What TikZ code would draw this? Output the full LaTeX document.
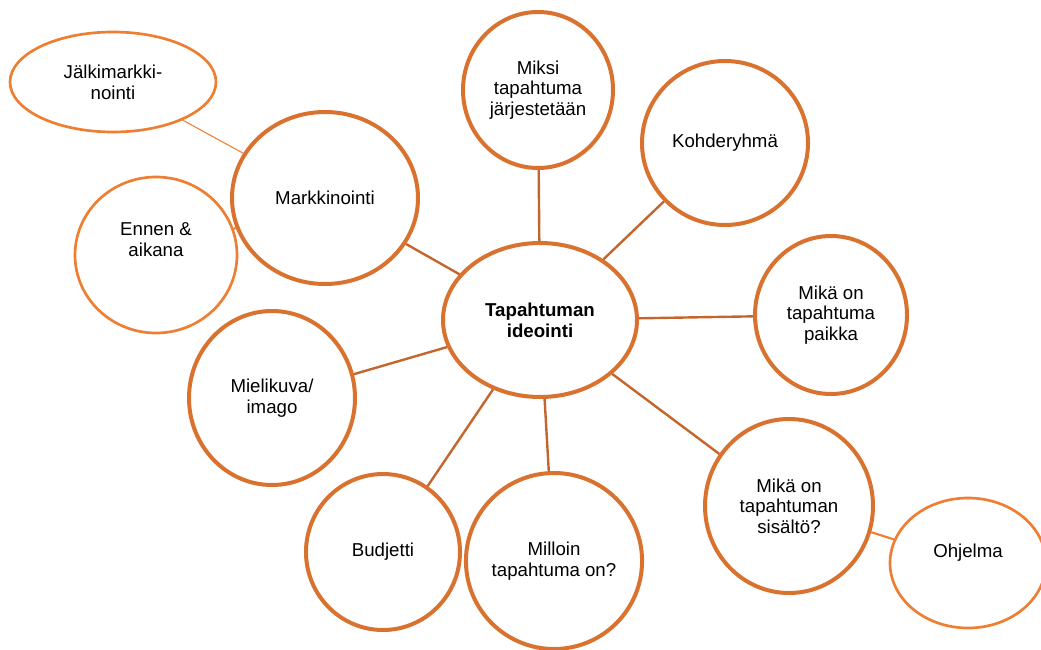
\documentclass[tikz,border=0pt]{standalone}
\usepackage{fontspec}
\setmainfont{Liberation Sans}
\usetikzlibrary{shapes.geometric}
\definecolor{ringorange}{RGB}{216,114,46}
\definecolor{thinorange}{RGB}{238,126,50}
\definecolor{linkbrown}{RGB}{196,102,44}

\begin{document}
\begin{tikzpicture}[x=0.75pt,y=-0.75pt,
	bubble/.style 2 args={ellipse,draw=ringorange,line width=3pt,fill=white,inner sep=0pt,
		minimum width=#1,minimum height=#2,align=center,font=\fontsize{14}{15.5}\selectfont},
	subbubble/.style 2 args={bubble={#1}{#2},draw=thinorange,line width=2pt},
	link/.style={draw=linkbrown,line width=1.8pt},
	sublink/.style={draw=thinorange,line width=1.6pt}]

\clip (0,0) rectangle (1041,649);

\node[bubble={145.5pt}{115.5pt}]	(idea)		at (540,320)	{\textbf{Tapahtuman}\\\textbf{ideointi}};
\node[bubble={112.5pt}{117pt}]		(miksi)		at (538,90)		{Miksi\\tapahtuma\\järjestetään};
\node[bubble={124.5pt}{123pt}]		(kohde)		at (725,143)	{Kohderyhmä};
\node[bubble={114pt}{118.5pt}]		(paikka)	at (831,315)	{Mikä on\\tapahtuma\\paikka};
\node[bubble={126pt}{130.5pt}]		(sisalto)	at (789,506)	{Mikä on\\tapahtuman\\sisältö?};
\node[bubble={126pt}{132pt}]		(milloin)	at (554,561)	{Milloin\\tapahtuma on?};
\node[bubble={115.5pt}{117pt}]		(budjetti)	at (383,552)	{Budjetti};
\node[bubble={124.5pt}{130.5pt}]	(mieli)		at (272,398)	{Mielikuva/\\imago};
\node[bubble={139.5pt}{129pt}]		(markk)		at (325,198)	{Markkinointi};

%outer ring, thinner lines
\node[subbubble={117pt}{97.5pt}]	(ohjelma)	at (968,563)	{\raisebox{7.5pt}[\height][\depth]{Ohjelma}};
\node[subbubble={121.5pt}{117pt}]	(ennen)		at (156,255)	{\raisebox{10pt}[\height][\depth]{\begin{tabular}{@{}c@{}}Ennen \&\\aikana\end{tabular}}};
\node[subbubble={154.5pt}{75pt}]	(jalki)		at (113,82)		{Jälkimarkki-\\nointi};

\path[link] (idea)	edge (miksi)
	edge (kohde)
	edge (paikka)
	edge (sisalto)
	edge (milloin)
	edge (budjetti)
	edge (mieli)
	edge (markk);

\path[sublink] (sisalto) edge (ohjelma)
	(markk) edge (ennen)
	(markk) edge[line width=0.8pt] (jalki);

\end{tikzpicture}
\end{document}
